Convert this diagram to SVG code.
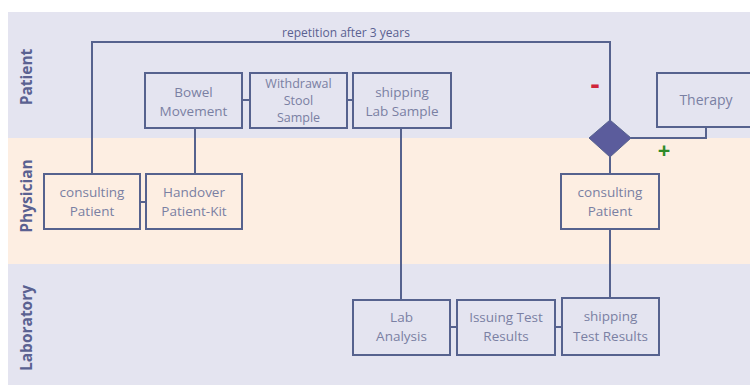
<svg xmlns="http://www.w3.org/2000/svg" width="750" height="385" viewBox="0 0 750 385">
<style>
.lane-lbl{font-family:"Open Sans","Liberation Sans",sans-serif;font-size:15.5px;font-weight:bold;fill:#5a6191;text-anchor:middle}
.box{fill:none;stroke:#56628e;stroke-width:2}
.t{font-family:"Open Sans","Liberation Sans",sans-serif;font-size:13.5px;fill:#7a80a3;text-anchor:middle}
.ts{font-size:12.5px}
.c{fill:none;stroke:#56628e;stroke-width:2}
</style>
<rect x="0" y="0" width="750" height="385" fill="#ffffff"/>
<g id="lanes">
<rect x="8" y="12" width="742" height="126" fill="#e4e4f0"/>
<rect x="8" y="138" width="742" height="126" fill="#fdeee2"/>
<rect x="8" y="264" width="742" height="121" fill="#e4e4f0"/>
<text class="lane-lbl" transform="translate(32,77) rotate(-90)">Patient</text>
<text class="lane-lbl" transform="translate(32,196) rotate(-90)">Physician</text>
<text class="lane-lbl" transform="translate(32,328) rotate(-90)">Laboratory</text>
</g>
<g id="connectors">
<polyline class="c" points="92,174 92,42 610,42 610,120"/>
<line class="c" x1="195" y1="128" x2="195" y2="174"/>
<line class="c" x1="242" y1="100" x2="250" y2="100"/>
<line class="c" x1="347" y1="100" x2="353" y2="100"/>
<line class="c" x1="140" y1="202" x2="146" y2="202"/>
<line class="c" x1="401" y1="128" x2="401" y2="300"/>
<line class="c" x1="450" y1="327" x2="457" y2="327"/>
<line class="c" x1="555" y1="327" x2="562" y2="327"/>
<line class="c" x1="610" y1="229" x2="610" y2="298"/>
<line class="c" x1="610" y1="157" x2="610" y2="174"/>
<polyline class="c" points="631,138 706,138 706,127"/>
<text x="346" y="37" style="font-family:'Open Sans','Liberation Sans',sans-serif;font-size:12px;fill:#5a6191;text-anchor:middle">repetition after 3 years</text>
<text x="595" y="94" style="font-family:'Open Sans','Liberation Sans',sans-serif;font-size:28px;font-weight:bold;fill:#d0243a;text-anchor:middle">-</text>
<text x="664" y="158" style="font-family:'Open Sans','Liberation Sans',sans-serif;font-size:22px;font-weight:bold;fill:#2f8a28;text-anchor:middle">+</text>
</g>
<g id="decision">
<polygon points="610,120 631,138 610,157 589,138" fill="#5b5c9c" stroke="#56628e" stroke-width="1"/>
</g>
<g id="bowel">
<rect class="box" x="145" y="73" width="97" height="55"/>
<text class="t" x="193.5" y="97">Bowel</text>
<text class="t" x="193.5" y="116">Movement</text>
</g>
<g id="withdrawal">
<rect class="box" x="250" y="73" width="97" height="55"/>
<text class="t ts" x="298.5" y="88">Withdrawal</text>
<text class="t ts" x="298.5" y="105">Stool</text>
<text class="t ts" x="298.5" y="122">Sample</text>
</g>
<g id="shipLab">
<rect class="box" x="353" y="73" width="98" height="55"/>
<text class="t" x="402" y="97">shipping</text>
<text class="t" x="402" y="116">Lab Sample</text>
</g>
<g id="therapy">
<rect class="box" x="657" y="73" width="100" height="54"/>
<text class="t" x="706" y="105" style="font-size:14px">Therapy</text>
</g>
<g id="consult1">
<rect class="box" x="44" y="174" width="96" height="55"/>
<text class="t" x="92" y="197">consulting</text>
<text class="t" x="92" y="216">Patient</text>
</g>
<g id="handover">
<rect class="box" x="146" y="174" width="96" height="55"/>
<text class="t" x="194" y="197">Handover</text>
<text class="t" x="194" y="216">Patient-Kit</text>
</g>
<g id="consult2">
<rect class="box" x="561" y="174" width="98" height="55"/>
<text class="t" x="610" y="197">consulting</text>
<text class="t" x="610" y="216">Patient</text>
</g>
<g id="labAnalysis">
<rect class="box" x="353" y="300" width="97" height="55"/>
<text class="t" x="401.5" y="322">Lab</text>
<text class="t" x="401.5" y="341">Analysis</text>
</g>
<g id="issuing">
<rect class="box" x="457" y="300" width="98" height="55"/>
<text class="t" x="506" y="322">Issuing Test</text>
<text class="t" x="506" y="341">Results</text>
</g>
<g id="shipTest">
<rect class="box" x="562" y="298" width="97" height="57"/>
<text class="t" x="610.5" y="321">shipping</text>
<text class="t" x="610.5" y="341">Test Results</text>
</g>
</svg>
